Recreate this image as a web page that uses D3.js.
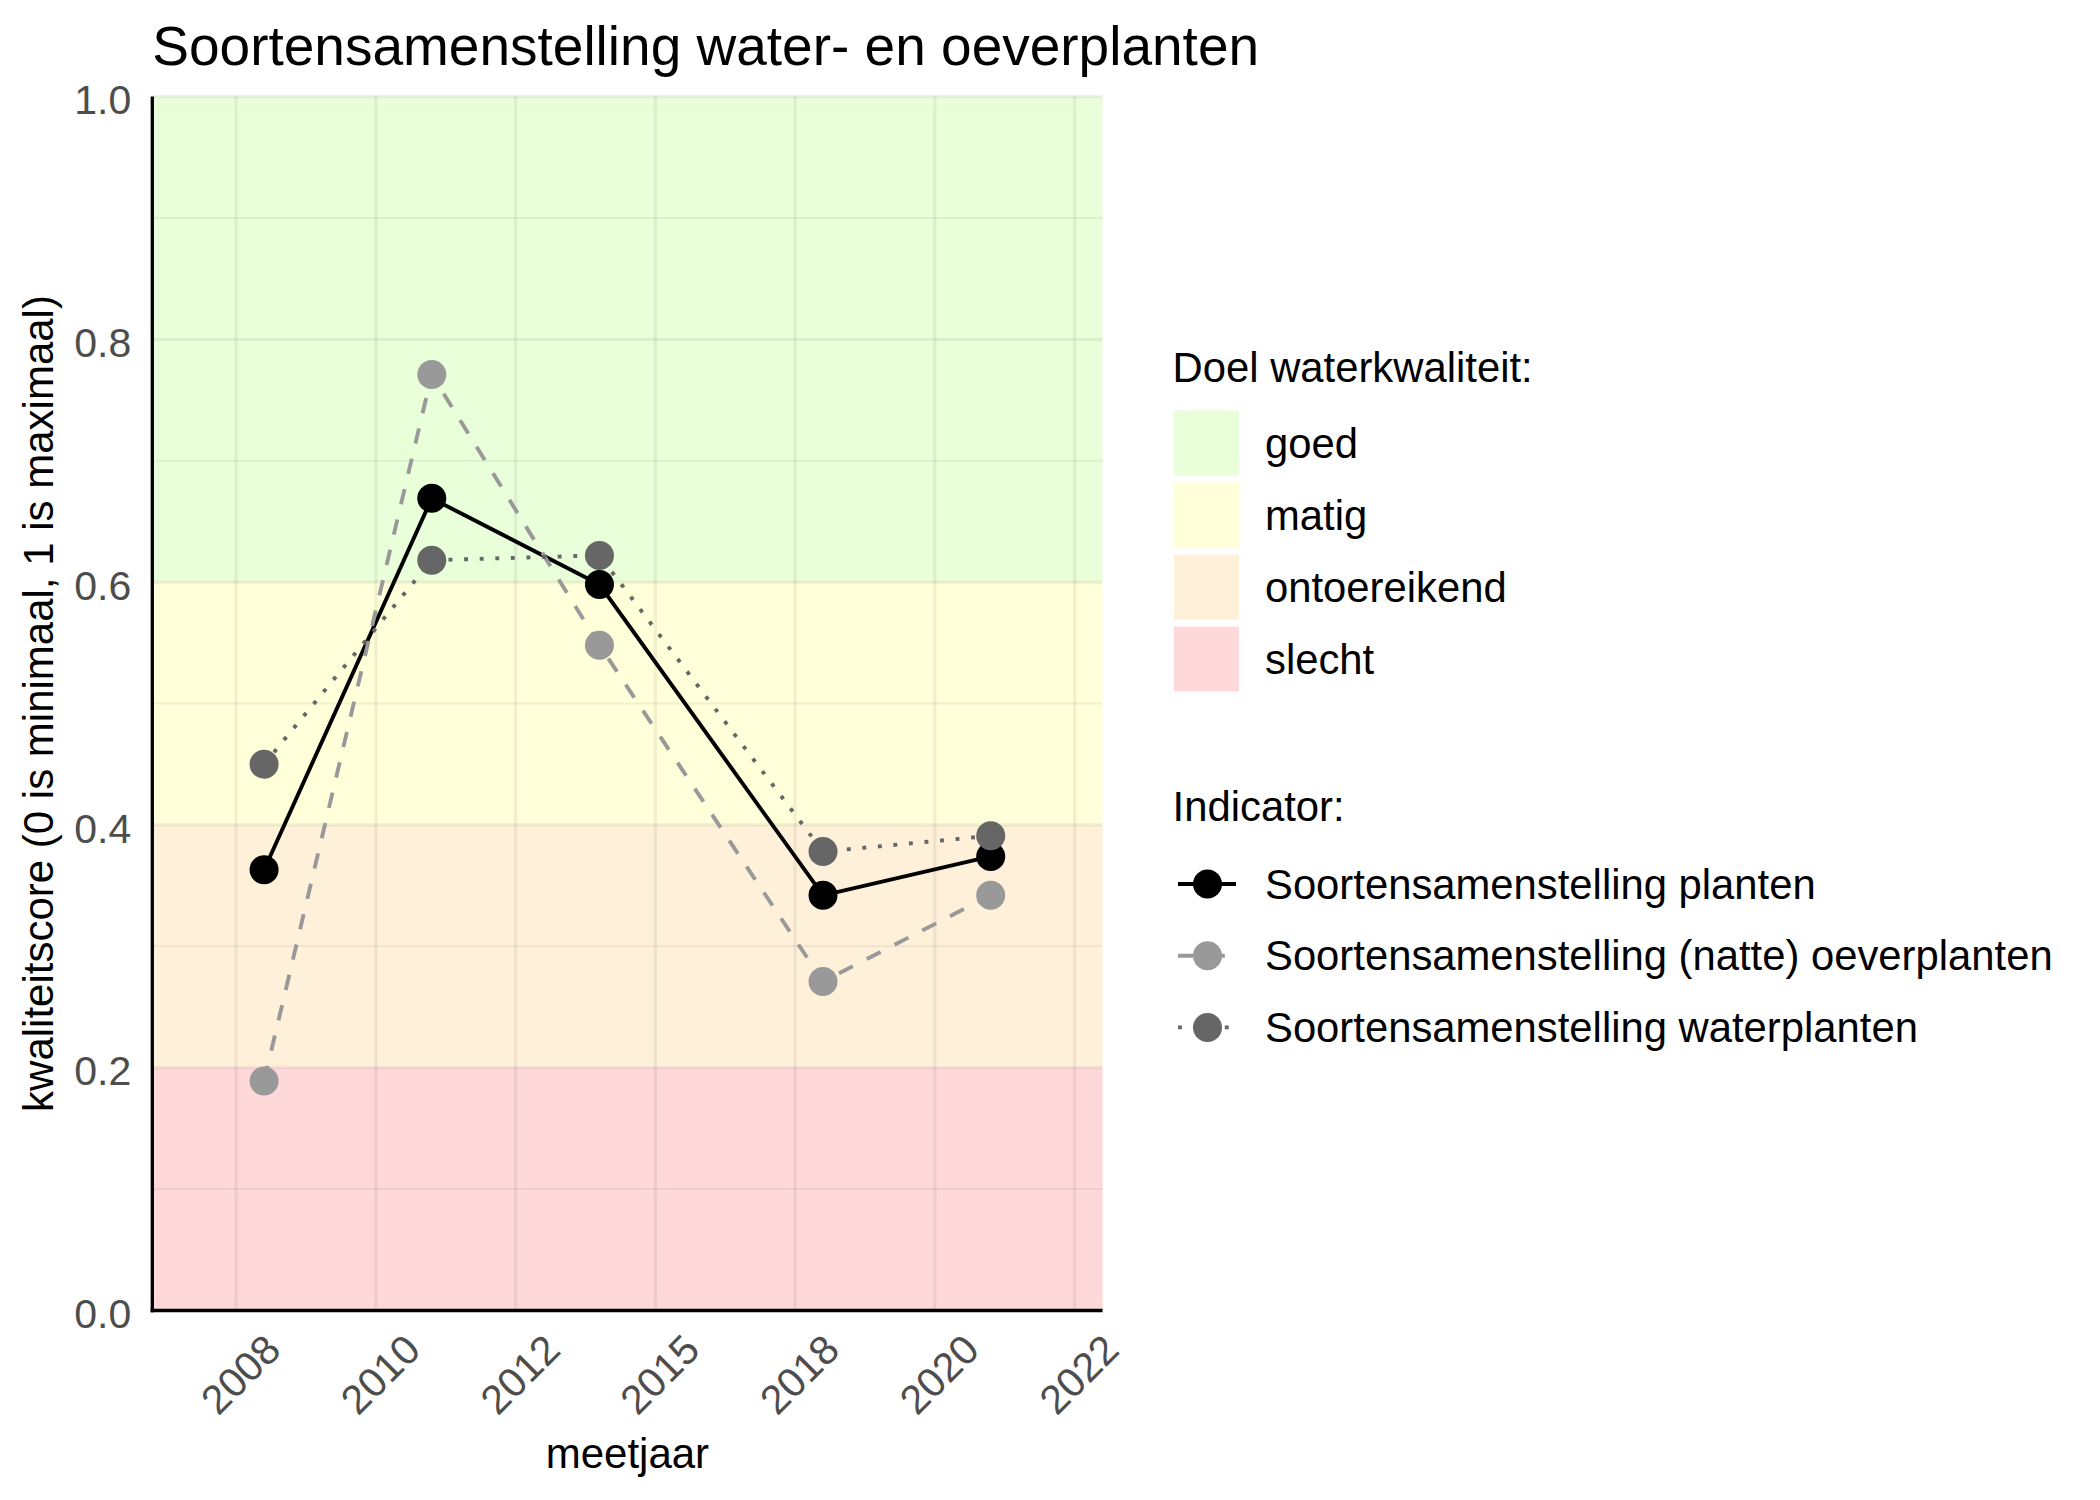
<!DOCTYPE html>
<html>
<head>
<meta charset="utf-8">
<script src="https://cdn.jsdelivr.net/npm/d3@7"></script>
<style>
  html, body { margin: 0; padding: 0; background: #ffffff; }
  svg { display: block; font-family: "Liberation Sans", Arial, sans-serif; }
</style>
</head>
<body>
<svg id="chart" width="2100" height="1500"></svg>
<script>
// ---------------- data ----------------
const years = [2008, 2011, 2014, 2018, 2021];
const seriesNames = [
  "Soortensamenstelling planten",
  "Soortensamenstelling (natte) oeverplanten",
  "Soortensamenstelling waterplanten"
];
const planten = [0.363, 0.669, 0.598, 0.342, 0.374];
const oeverplanten = [0.189, 0.771, 0.548, 0.271, 0.342];
const waterplanten = [0.450, 0.618, 0.622, 0.378, 0.391];

const bandNames = ["goed", "matig", "ontoereikend", "slecht"];
const bandLow = [0.6, 0.4, 0.2, 0.0];
const bandHigh = [1.0, 0.6, 0.4, 0.2];

const xTickValues = [2007.5, 2010, 2012.5, 2015, 2017.5, 2020, 2022.5];
const xTickLabels = ["2008", "2010", "2012", "2015", "2018", "2020", "2022"];
const yTickValues = [0, 0.2, 0.4, 0.6, 0.8, 1.0];
const yMinorValues = [0.1, 0.3, 0.5, 0.7, 0.9];
const xDomain = [2006, 2023];
const yDomain = [0, 1];

const titleText = "Soortensamenstelling water- en oeverplanten";
const xTitle = "meetjaar";
const yTitle = "kwaliteitscore (0 is minimaal, 1 is maximaal)";
const legendTitle1 = "Doel waterkwaliteit:";
const legendTitle2 = "Indicator:";

// ---------------- styles ----------------
const bandColors = ["#E8FFD9", "#FFFFD9", "#FFF0D9", "#FFD8D9"];
const seriesColors = ["#000000", "#999999", "#666666"];
const lw = 3.9;
const seriesDash = [null, `${4*lw},${4*lw}`, `${lw},${3*lw}`];
const pointR = 14.5;
const fsTitle = 55, fsAxisTitle = 42, fsLegend = 41.8, fsTick = 41;

const svg = d3.select("#chart");
const plot = { left: 152.3, right: 1102.5, top: 96.5, bottom: 1310.5 };

const x = d3.scaleLinear().domain(xDomain).range([plot.left, plot.right]);
const y = d3.scaleLinear().domain(yDomain).range([plot.bottom, plot.top]);

svg.append("rect").attr("width", 2100).attr("height", 1500).attr("fill", "#fff");

// bands
svg.append("g").selectAll("rect").data(bandNames).join("rect")
  .attr("x", plot.left).attr("width", plot.right - plot.left)
  .attr("y", (d, i) => y(bandHigh[i]))
  .attr("height", (d, i) => y(bandLow[i]) - y(bandHigh[i]))
  .attr("fill", (d, i) => bandColors[i]);

// grid
const grid = svg.append("g");
grid.selectAll(".ymin").data(yMinorValues).join("line")
  .attr("x1", plot.left).attr("x2", plot.right)
  .attr("y1", d => y(d)).attr("y2", d => y(d))
  .attr("stroke", "rgba(0,0,0,0.055)").attr("stroke-width", 2);
grid.selectAll(".ymaj").data(yTickValues).join("line")
  .attr("x1", plot.left).attr("x2", plot.right)
  .attr("y1", d => y(d)).attr("y2", d => y(d))
  .attr("stroke", "rgba(0,0,0,0.06)").attr("stroke-width", 3.3);
grid.selectAll(".xmaj").data(xTickValues).join("line")
  .attr("y1", plot.top).attr("y2", plot.bottom)
  .attr("x1", d => x(d)).attr("x2", d => x(d))
  .attr("stroke", "rgba(0,0,0,0.06)").attr("stroke-width", 3.3);

// series
const allSeries = [planten, oeverplanten, waterplanten].map((vals, i) => ({
  name: seriesNames[i],
  values: vals.map((v, j) => ({ year: years[j], v }))
}));

const line = d3.line().x(d => x(d.year)).y(d => y(d.v));
svg.append("g").selectAll("path").data(allSeries).join("path")
  .attr("d", d => line(d.values))
  .attr("fill", "none")
  .attr("stroke", (d, i) => seriesColors[i])
  .attr("stroke-width", lw)
  .attr("stroke-dasharray", (d, i) => seriesDash[i])
  .attr("stroke-linecap", "butt");

const ptG = svg.append("g");
allSeries.forEach((s, i) => {
  ptG.append("g").selectAll("circle").data(s.values).join("circle")
    .attr("cx", d => x(d.year)).attr("cy", d => y(d.v))
    .attr("r", pointR).attr("fill", seriesColors[i]);
});

// axes
const yAxis = d3.axisLeft(y).tickValues(yTickValues).tickFormat(d3.format(".1f")).tickSize(0).tickPadding(21);
const yg = svg.append("g").attr("transform", `translate(${plot.left},0)`).call(yAxis);
yg.select(".domain").remove();
yg.selectAll("text").attr("font-size", fsTick).attr("fill", "#4D4D4D")
  .attr("font-family", "Liberation Sans, Arial, sans-serif")
  .attr("dy", "0.42em");

const xAxis = d3.axisBottom(x).tickValues(xTickValues).tickFormat((d, i) => xTickLabels[i]).tickSize(0);
const xg = svg.append("g").attr("transform", `translate(0,${plot.bottom})`).call(xAxis);
xg.select(".domain").remove();
xg.selectAll(".tick text")
  .attr("font-size", fsTick).attr("fill", "#4D4D4D")
  .attr("font-family", "Liberation Sans, Arial, sans-serif")
  .attr("text-anchor", "middle")
  .attr("dominant-baseline", "central")
  .attr("y", 0).attr("dy", null)
  .attr("transform", "translate(4,64) rotate(-45)");

// axis lines
svg.append("line").attr("x1", plot.left).attr("x2", plot.left)
  .attr("y1", plot.top).attr("y2", plot.bottom + 1.65)
  .attr("stroke", "#000").attr("stroke-width", 3.3);
svg.append("line").attr("x1", plot.left - 1.65).attr("x2", plot.right)
  .attr("y1", plot.bottom).attr("y2", plot.bottom)
  .attr("stroke", "#000").attr("stroke-width", 3.3);

// titles
svg.append("text").attr("x", plot.left).attr("y", 65)
  .attr("font-size", fsTitle).attr("fill", "#000").text(titleText);
svg.append("text").attr("x", (plot.left + plot.right) / 2).attr("y", 1468)
  .attr("text-anchor", "middle").attr("font-size", fsAxisTitle).attr("fill", "#000").text(xTitle);
svg.append("text")
  .attr("transform", `translate(53,${(plot.top + plot.bottom) / 2}) rotate(-90)`)
  .attr("text-anchor", "middle").attr("font-size", fsAxisTitle).attr("fill", "#000").text(yTitle);

// legend 1
const lg = svg.append("g");
lg.append("text").attr("x", 1172.6).attr("y", 382).attr("font-size", fsLegend).text(legendTitle1);
const keyY0 = 410.5, keyPitch = 72, keySize = 65;
bandNames.forEach((n, i) => {
  lg.append("rect").attr("x", 1174).attr("y", keyY0 + i * keyPitch)
    .attr("width", keySize).attr("height", keySize).attr("fill", bandColors[i]);
  lg.append("text").attr("x", 1265).attr("y", keyY0 + i * keyPitch + keySize / 2)
    .attr("dominant-baseline", "central").attr("font-size", fsLegend).text(n);
});

// legend 2
lg.append("text").attr("x", 1172.6).attr("y", 821).attr("font-size", fsLegend).text(legendTitle2);
const lkY0 = 884, lkPitch = 71.7;
seriesNames.forEach((n, i) => {
  const cy = lkY0 + i * lkPitch;
  lg.append("line").attr("x1", 1178).attr("x2", 1236).attr("y1", cy).attr("y2", cy)
    .attr("stroke", seriesColors[i]).attr("stroke-width", lw)
    .attr("stroke-dasharray", seriesDash[i]);
  lg.append("circle").attr("cx", 1207.5).attr("cy", cy).attr("r", pointR).attr("fill", seriesColors[i]);
  lg.append("text").attr("x", 1265).attr("y", cy)
    .attr("dominant-baseline", "central").attr("font-size", fsLegend).text(n);
});
</script>
</body>
</html>
